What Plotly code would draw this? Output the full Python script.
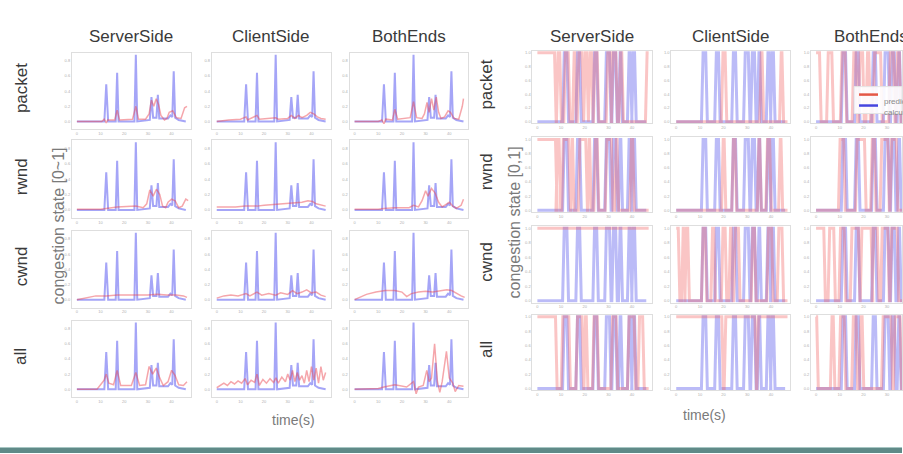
import plotly.graph_objects as go

WIN_W, WIN_H = 903, 454
OFF = 0  # body margin is removed by the post script below
FW, FH = WIN_W - OFF, WIN_H - OFF

COLS = ["ServerSide", "ClientSide", "BothEnds"]
ROWS = ["packet", "rwnd", "cwnd", "all"]
X_TICKS = [0, 10, 20, 30, 40]
X_TICK_TEXT = ["0", "10", "20", "30", "40"]
YL_TICKS = [0, 0.2, 0.4, 0.6, 0.8]
YL_TICK_TEXT = ["0.0", "0.2", "0.4", "0.6", "0.8"]
YR_TICKS = [0, 0.2, 0.4, 0.6, 0.8, 1.0]
YR_TICK_TEXT = ["0.0", "0.2", "0.4", "0.6", "0.8", "1.0"]

# ---------------- left panel: congestion state [0~1] ----------------
BLUE_L_T = [0, 11.6, 12.4, 13.2, 16.4, 17.0, 17.6, 24.3, 24.9, 25.5, 30.8, 31.5, 32.2, 33.6, 34.2, 34.8,
            38.5, 39.5, 40.3, 40.9, 41.5, 43, 46]
BLUE_L_Y = [0, 0, 0.49, 0, 0, 0.64, 0, 0, 0.88, 0, 0.02, 0.32, 0.05, 0.05, 0.35, 0.04,
            0.04, 0.08, 0.06, 0.66, 0.05, 0.02, 0]

RED_PACKET_SRV_T = [0, 10.5, 11.5, 12.4, 13, 16, 17, 18, 23.5, 24.9, 26, 29, 30.5, 31.5, 32.5, 33.5, 34.5, 35.5, 37, 38, 39, 40.5, 42, 44, 45.5, 46.5]
RED_PACKET_SRV_Y = [0, 0, 0.03, -0.02, 0.02, 0.02, 0.15, 0.02, 0.03, 0.2, 0.03, 0.03, 0.1, 0.28, 0.2, 0.3, 0.22, 0.08, 0.02, 0.04, 0.12, 0.14, 0.05, 0.04, 0.18, 0.2]
RED_PACKET_CLI_T = [0, 5, 10, 12.4, 13, 17, 18, 24.9, 26, 30, 31.5, 33, 34.5, 36, 38, 39.5, 41, 42.5, 44, 46]
RED_PACKET_CLI_Y = [0, 0.02, 0.03, 0.06, 0.02, 0.08, 0.03, 0.05, 0.03, 0.04, 0.08, 0.04, 0.08, 0.05, 0.08, 0.12, 0.1, 0.06, 0.04, 0.03]
RED_PACKET_BOTH_T = [0, 10, 11.5, 12.4, 13.2, 16, 17, 18.2, 23.5, 24.9, 26.2, 28.5, 29.5, 30.6, 31.5, 32.5, 33.5, 34.5, 35.5, 36.5, 38, 39.5, 40.5, 42, 44, 45.5, 46]
RED_PACKET_BOTH_Y = [0, 0, 0.02, -0.03, 0.03, 0.02, 0.16, 0.03, 0.05, 0.26, 0.05, 0.04, 0.1, 0.25, 0.12, 0.3, 0.15, 0.32, 0.12, 0.04, 0.06, 0.14, 0.12, 0.04, 0.03, 0.2, 0.3]

RED_RWND_SRV_T = [0, 10, 12.4, 17, 24.9, 28, 29.5, 30.8, 32.2, 33.6, 35, 36.2, 37.5, 38.5, 40, 41.5, 43, 44.5, 46, 47]
RED_RWND_SRV_Y = [0.01, 0.01, 0.02, 0.04, 0.05, 0.03, 0.08, 0.26, 0.18, 0.27, 0.2, 0.05, 0.03, 0.1, 0.14, 0.12, 0.03, 0.05, 0.14, 0.12]
RED_RWND_CLI_T = [0, 8, 12, 17, 20, 25, 30, 33, 36, 38.5, 40.5, 42, 44, 46]
RED_RWND_CLI_Y = [0.04, 0.04, 0.05, 0.05, 0.06, 0.07, 0.08, 0.09, 0.1, 0.12, 0.11, 0.08, 0.06, 0.05]
RED_RWND_BOTH_T = [0, 10, 12.4, 17, 23, 24.9, 27, 28.5, 30, 31, 32.5, 34, 35.5, 37, 38.5, 40, 41.5, 43, 45, 46]
RED_RWND_BOTH_Y = [0.01, 0.01, 0.02, 0.03, 0.03, 0.06, 0.04, 0.12, 0.25, 0.18, 0.28, 0.22, 0.1, 0.04, 0.07, 0.1, 0.05, 0.02, 0.06, 0.14]

RED_CWND_SRV_T = [0, 4, 8, 12.4, 17, 24.9, 30, 34, 38, 42, 45, 46.5]
RED_CWND_SRV_Y = [0, 0.03, 0.05, 0.05, 0.06, 0.06, 0.06, 0.07, 0.06, 0.06, 0.05, 0.03]
RED_CWND_CLI_T = [0, 3, 6, 9, 12.4, 14, 17, 19, 22, 24.9, 27, 30, 32, 34, 36, 38, 40, 42, 44, 46]
RED_CWND_CLI_Y = [0.02, 0.05, 0.06, 0.05, 0.08, 0.05, 0.1, 0.06, 0.08, 0.06, 0.09, 0.07, 0.12, 0.08, 0.1, 0.13, 0.09, 0.1, 0.06, 0.04]
RED_CWND_BOTH_T = [0, 2, 5, 9, 13, 17, 20, 22, 24, 27, 30, 33, 36, 39, 41, 43, 45, 46.5]
RED_CWND_BOTH_Y = [0, 0.03, 0.07, 0.1, 0.12, 0.12, 0.1, 0.04, 0.08, 0.1, 0.11, 0.1, 0.12, 0.13, 0.12, 0.08, 0.05, 0.03]

RED_ALL_SRV_T = [0, 8.5, 10, 11.5, 12.4, 13.5, 15.5, 17, 18.5, 23, 24.9, 26.5, 29, 30.5, 32, 33.5, 35, 36.5, 38.5, 40, 41.5, 43, 45, 46.5]
RED_ALL_SRV_Y = [0, 0, 0.06, 0.12, 0.2, 0.08, 0.06, 0.25, 0.05, 0.05, 0.22, 0.05, 0.06, 0.3, 0.2, 0.28, 0.15, 0.05, 0.1, 0.25, 0.18, 0.06, 0.05, 0.1]
RED_ALL_CLI_T = [0, 1.5, 3, 4.5, 6, 7.5, 9, 10.5, 12, 13, 14.5, 16, 17, 18, 19.5, 21, 22.5, 24, 25, 26, 27.5, 29, 30, 31, 32, 33, 34, 35, 36, 37, 38, 39, 40, 41, 42, 43, 44, 45, 46]
RED_ALL_CLI_Y = [0.02, 0.05, 0.08, 0.05, 0.1, 0.07, 0.11, 0.08, 0.14, 0.06, 0.12, 0.09, 0.2, 0.05, 0.13, 0.08, 0.14, 0.09, 0.15, 0.08, 0.16, 0.1, 0.2, 0.12, 0.25, 0.1, 0.22, 0.12, 0.18, 0.08, 0.25, 0.1, 0.3, 0.12, 0.28, 0.08, 0.3, 0.12, 0.22]
RED_ALL_BOTH_T = [0, 10, 12.4, 17, 22, 24.9, 26, 27, 29, 30.5, 31.5, 32.5, 33.8, 35, 36, 37, 38.8, 40, 41.5, 42.5, 44, 46]
RED_ALL_BOTH_Y = [0, 0.01, 0.03, 0.06, 0.03, 0.1, -0.06, 0.03, 0.05, 0.25, 0.1, 0.15, 0.6, 0.1, -0.04, 0.1, 0.5, 0.15, 0.08, -0.03, 0.05, 0.04]

# ---------------- right panel: congestion state [0,1] (intervals where state = 1) ----------------
BLUE_R_PULSES = [(11.0, 12.8), (16.6, 18.2), (23.8, 25.4), (28.8, 30.8), (31.8, 33.4), (34.6, 35.6), (38.4, 39.6), (40.2, 41.4)]

RED_R_PACKET_SRV = [(0, 7.6), (8.4, 9.8), (11.5, 13.4), (15.2, 16.2), (17.2, 19.2), (19.9, 21.2), (21.9, 23.2), (24.0, 25.6), (29.4, 31.0), (31.6, 33.5), (34.8, 36.0), (46.0, 47.5)]
RED_R_PACKET_CLI = [(19.4, 21.0), (35.6, 36.6), (44.0, 45.0)]
RED_R_PACKET_BOTH = [(0, 1.8), (4.8, 7.0), (10.6, 12.6), (15.6, 17.2), (18.2, 20.0), (21.4, 22.6), (24.4, 27.6), (31.0, 33.0), (34.0, 35.5)]

RED_R_RWND_SRV = [(0, 8.0), (8.2, 9.5), (10.6, 13.6), (14.4, 15.2), (17.6, 20.8), (21.6, 22.4), (24.2, 25.6), (29.0, 31.6), (33.0, 34.0), (39.4, 40.6)]
RED_R_RWND_CLI = [(19.5, 20.6), (23.8, 25.2), (34.6, 35.6), (38.2, 39.8), (43.6, 44.6)]
RED_R_RWND_BOTH = [(9.8, 12.0), (17.0, 20.8), (23.4, 25.0), (27.4, 30.6), (31.6, 34.2)]

RED_R_CWND_SRV = [(0, 47.0)]
RED_R_CWND_CLI = [(0, 1.2), (2.6, 3.4), (4.0, 5.2), (11.0, 12.6), (15.0, 16.2), (19.4, 21.0), (22.6, 23.6), (24.6, 26.6), (32.0, 33.4), (38.6, 40.6), (43.0, 45.0)]
RED_R_CWND_BOTH = [(0, 3.6), (5.4, 7.8), (10.0, 12.2), (14.8, 18.2), (19.0, 23.6), (24.0, 26.2), (27.6, 30.6), (31.6, 34.6)]

RED_R_ALL_SRV = [(0, 8.0), (10.4, 13.6), (16.6, 19.2), (20.0, 21.0), (23.6, 25.6), (31.4, 33.6), (38.4, 41.2), (42.8, 44.8)]
RED_R_ALL_CLI = [(0, 19.6), (20.6, 33.6), (34.4, 47.0)]
RED_R_ALL_BOTH = [(0, 0.6), (6.4, 7.6), (10.0, 12.2), (15.4, 17.2), (18.6, 19.8), (28.0, 32.0), (33.0, 35.8)]

# ---------------- layout positions (window pixels) ----------------
LEFT_X_PX = [(72, 191), (212, 331), (350, 469)]
LEFT_Y_PX = [(52, 129), (140, 218), (231, 308), (321, 398)]
RIGHT_X_PX = [(533, 653), (672, 791), (812, 903)]
RIGHT_Y_PX = [(50, 123), (137, 212), (226, 303), (315, 391)]
PX_PER_UNIT = 2.37
X_START = -2.1

BLUE_L = "rgba(75,75,240,0.5)"
RED_L = "rgba(235,70,80,0.48)"
BLUE_R = "rgba(85,85,235,0.4)"
RED_R = "rgba(240,95,95,0.36)"

LEFT_RED = [
    [(RED_PACKET_SRV_T, RED_PACKET_SRV_Y), (RED_PACKET_CLI_T, RED_PACKET_CLI_Y), (RED_PACKET_BOTH_T, RED_PACKET_BOTH_Y)],
    [(RED_RWND_SRV_T, RED_RWND_SRV_Y), (RED_RWND_CLI_T, RED_RWND_CLI_Y), (RED_RWND_BOTH_T, RED_RWND_BOTH_Y)],
    [(RED_CWND_SRV_T, RED_CWND_SRV_Y), (RED_CWND_CLI_T, RED_CWND_CLI_Y), (RED_CWND_BOTH_T, RED_CWND_BOTH_Y)],
    [(RED_ALL_SRV_T, RED_ALL_SRV_Y), (RED_ALL_CLI_T, RED_ALL_CLI_Y), (RED_ALL_BOTH_T, RED_ALL_BOTH_Y)],
]
RIGHT_RED = [
    [RED_R_PACKET_SRV, RED_R_PACKET_CLI, RED_R_PACKET_BOTH],
    [RED_R_RWND_SRV, RED_R_RWND_CLI, RED_R_RWND_BOTH],
    [RED_R_CWND_SRV, RED_R_CWND_CLI, RED_R_CWND_BOTH],
    [RED_R_ALL_SRV, RED_R_ALL_CLI, RED_R_ALL_BOTH],
]


def px(x):
    return (x - OFF) / FW


def py(y):
    return 1 - (y - OFF) / FH


def step_series(pulses, t_end, ramp=0.35):
    """Turn a list of (start, end) intervals of state 1 into line vertices."""
    t, y = [0.0], [1 if pulses[0][0] <= 0 else 0]
    for s, e in pulses:
        if s > 0:
            t += [s - ramp, s + ramp]; y += [0, 1]
        if e >= t_end:
            t.append(t_end); y.append(1)
            return t, y
        t += [e - ramp, e + ramp]; y += [1, 0]
    t.append(t_end); y.append(0)
    return t, y


fig = go.Figure()
layout = {}
n = 0
for panel in ("L", "R"):
    xs = LEFT_X_PX if panel == "L" else RIGHT_X_PX
    ys = LEFT_Y_PX if panel == "L" else RIGHT_Y_PX
    for r in range(4):
        for c in range(3):
            n += 1
            sfx = "" if n == 1 else str(n)
            x0, x1 = xs[c]
            y0, y1 = ys[r]
            x1c = min(x1, WIN_W)
            xr = [X_START, X_START + (x1c - x0) / PX_PER_UNIT]
            layout["xaxis" + sfx] = dict(
                domain=[px(x0), min(px(x1c), 1.0)], anchor="y" + sfx, range=xr,
                tickvals=X_TICKS, ticktext=X_TICK_TEXT,
                tickfont=dict(size=4, color="#b0b0b0"), ticks="",
                showline=True, mirror=True, linecolor="#dedede", linewidth=1,
                showgrid=False, zeroline=False, fixedrange=True)
            if panel == "L":
                yr, yt, ytt = [-0.105, 0.905], YL_TICKS, YL_TICK_TEXT
            else:
                yr, yt, ytt = [-0.025, 1.03], YR_TICKS, YR_TICK_TEXT
            layout["yaxis" + sfx] = dict(
                domain=[py(y1), py(y0)], anchor="x" + sfx, range=yr,
                tickvals=yt, ticktext=ytt,
                tickfont=dict(size=4, color="#b0b0b0"), ticks="",
                showline=True, mirror=True, linecolor="#dedede", linewidth=1,
                showgrid=False, zeroline=False, fixedrange=True)
            if panel == "L":
                rt, ry = LEFT_RED[r][c]
                fig.add_trace(go.Scatter(x=BLUE_L_T, y=BLUE_L_Y, mode="lines",
                                         line=dict(color=BLUE_L, width=2.0),
                                         xaxis="x" + sfx, yaxis="y" + sfx, showlegend=False))
                fig.add_trace(go.Scatter(x=rt, y=ry, mode="lines",
                                         line=dict(color=RED_L, width=1.5),
                                         xaxis="x" + sfx, yaxis="y" + sfx, showlegend=False))
            else:
                bt, by = step_series(BLUE_R_PULSES, 46.0)
                rt, ry = step_series(RIGHT_RED[r][c], 47.0)
                fig.add_trace(go.Scatter(x=bt, y=by, mode="lines",
                                         line=dict(color=BLUE_R, width=3.0),
                                         xaxis="x" + sfx, yaxis="y" + sfx, showlegend=False))
                fig.add_trace(go.Scatter(x=rt, y=ry, mode="lines",
                                         line=dict(color=RED_R, width=3.0),
                                         xaxis="x" + sfx, yaxis="y" + sfx, showlegend=False))

FONT = "Liberation Sans, Arial, sans-serif"
ann = []
for c, name in enumerate(COLS):
    for xs in (LEFT_X_PX, RIGHT_X_PX):
        x0, x1 = xs[c]
        cx = 872 if (xs is RIGHT_X_PX and c == 2) else (x0 + x1) / 2
        ann.append(dict(text=name, x=px(cx), y=py(36), xref="paper", yref="paper",
                        showarrow=False, xanchor="center", yanchor="middle",
                        font=dict(size=17, color="#3a3a3a", family=FONT)))
for r, name in enumerate(ROWS):
    for ys, lx in ((LEFT_Y_PX, 21), (RIGHT_Y_PX, 487)):
        cy = (ys[r][0] + ys[r][1]) / 2 - 3
        ann.append(dict(text=name, x=px(lx), y=py(cy), xref="paper", yref="paper",
                        showarrow=False, textangle=-90, xanchor="center", yanchor="middle",
                        font=dict(size=17, color="#3a3a3a", family=FONT)))
ann.append(dict(text="congestion state [0~1]", x=px(48), y=py(226), xref="paper", yref="paper",
                showarrow=False, textangle=-90, font=dict(size=16, color="#7a7a7a", family=FONT)))
ann.append(dict(text="congestion state [0,1]", x=px(515), y=py(222), xref="paper", yref="paper",
                showarrow=False, textangle=-90, font=dict(size=16, color="#7a7a7a", family=FONT)))
ann.append(dict(text="time(s)", x=px(270), y=py(411), xref="paper", yref="paper", yanchor="top",
                showarrow=False, font=dict(size=14, color="#7a7a7a", family=FONT)))
ann.append(dict(text="time(s)", x=px(729), y=py(406), xref="paper", yref="paper", yanchor="top",
                showarrow=False, font=dict(size=14, color="#7a7a7a", family=FONT)))
# legend box, cut by the right edge as in the reference
ann.append(dict(text="predicted", x=px(883), y=py(94), xref="paper", yref="paper", xanchor="left",
                showarrow=False, font=dict(size=8, color="#888", family=FONT)))
ann.append(dict(text="calculated", x=px(883), y=py(105), xref="paper", yref="paper", xanchor="left",
                showarrow=False, font=dict(size=8, color="#888", family=FONT)))

shapes = [
    dict(type="rect", xref="paper", yref="paper", x0=px(855), x1=1.0, y0=py(113), y1=py(86),
         fillcolor="rgba(255,255,255,0.9)", line=dict(color="#e4e4e4", width=1)),
    dict(type="line", xref="paper", yref="paper", x0=px(860), x1=px(879), y0=py(94), y1=py(94),
         line=dict(color="rgba(225,70,50,0.9)", width=2.5)),
    dict(type="line", xref="paper", yref="paper", x0=px(860), x1=px(879), y0=py(105), y1=py(105),
         line=dict(color="rgba(50,50,220,0.9)", width=2.5)),
    dict(type="rect", xref="paper", yref="paper", x0=0, x1=1, y0=0, y1=py(448),
         fillcolor="#5f8a88", line=dict(width=0)),
    dict(type="line", xref="paper", yref="paper", x0=0, x1=1, y0=py(448.5), y1=py(448.5),
         line=dict(color="#a9c8c5", width=1)),
]

fig.update_layout(
    width=FW, height=FH, margin=dict(l=0, r=0, t=0, b=0),
    paper_bgcolor="white", plot_bgcolor="white",
    annotations=ann, shapes=shapes, showlegend=False,
    font=dict(family=FONT),
    **layout,
)
fig.write_html("out.html",
               config={"displayModeBar": False, "staticPlot": True},
               post_script="document.body.style.margin='0';document.body.style.overflow='hidden';")
